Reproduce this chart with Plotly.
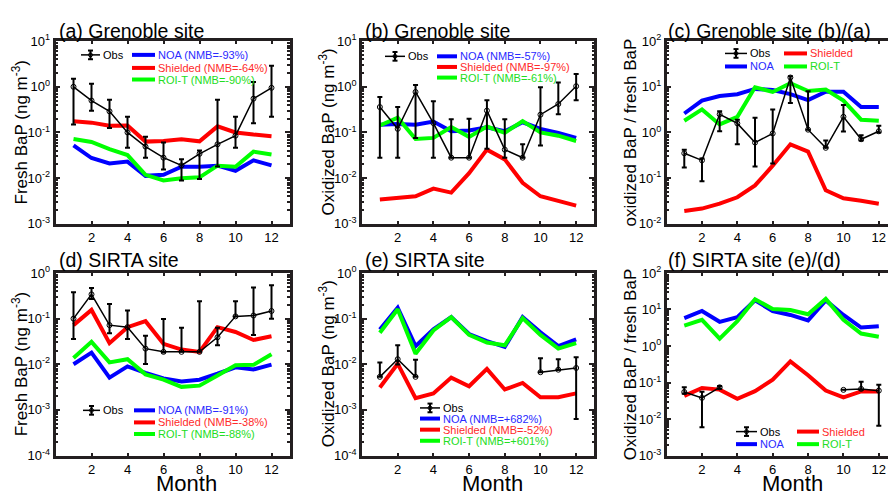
import plotly.graph_objects as go

W, H = 888, 499
months = list(range(1, 13))
NA = None

# ---------------- data ----------------
# (a) Grenoble fresh BaP
a_obs = [1.0, 0.50, 0.29, 0.10, 0.049, 0.028, 0.019, 0.034, 0.055, 0.085, 0.55, 0.95]
a_obs_hi = [1.5, 1.17, 0.52, 0.22, 0.080, 0.060, 0.026, 0.040, 0.52, 0.22, 1.27, 2.9]
a_obs_lo = [0.15, 0.30, 0.125, 0.046, 0.028, 0.0155, 0.0089, 0.0095, 0.018, 0.046, 0.16, 0.22]
a_noa = [0.052, 0.0275, 0.021, 0.023, 0.0112, 0.0118, 0.0177, 0.0177, 0.0187, 0.0145, 0.0245, 0.019]
a_shd = [0.175, 0.164, 0.140, 0.142, 0.063, 0.065, 0.071, 0.064, 0.136, 0.10, 0.090, 0.083]
a_roi = [0.072, 0.062, 0.043, 0.032, 0.0118, 0.0089, 0.0099, 0.0104, 0.0187, 0.0177, 0.038, 0.033]

# (b) Grenoble oxidized BaP
b_obs = [0.36, 0.12, 0.77, 0.16, 0.028, 0.028, 0.30, 0.042, 0.028, 0.245, 0.42, 1.03]
b_obs_hi = [0.60, 0.36, 1.1, 0.48, 0.195, 0.20, 0.51, 0.195, 0.055, 0.98, 1.25, 1.9]
b_obs_lo = [0.028, 0.028, 0.076, 0.028, 0.028, 0.028, 0.044, 0.028, 0.028, 0.052, 0.25, 0.51]
b_noa = [0.147, 0.153, 0.147, 0.173, 0.106, 0.11, 0.13, 0.106, 0.167, 0.12, 0.098, 0.076]
b_shd = [0.0034, 0.0036, 0.004, 0.0059, 0.0048, 0.0128, 0.042, 0.0257, 0.0079, 0.004, 0.0032, 0.0025]
b_roi = [0.142, 0.21, 0.072, 0.076, 0.132, 0.080, 0.135, 0.098, 0.178, 0.10, 0.085, 0.065]

# (c) Grenoble ratio
c_obs = [0.35, 0.245, 2.5, 1.58, 0.6, 0.95, 16, 1.15, 0.46, 2.2, 0.71, 1.06]
c_obs_hi = [0.42, 0.27, 2.9, 1.9, 2.1, 3.2, 17, 8.0, 0.67, 4.0, 0.87, 1.4]
c_obs_lo = [0.17, 0.085, 1.06, 0.55, 0.18, 0.21, 4.4, 1.15, 0.46, 1.05, 0.67, 1.0]
c_noa = [2.6, 5.0, 6.3, 6.9, 9.0, 8.5, 6.9, 5.1, 7.8, 7.8, 3.6, 3.6]
c_shd = [0.019, 0.0215, 0.0275, 0.038, 0.069, 0.187, 0.55, 0.38, 0.054, 0.036, 0.032, 0.0275]
c_roi = [1.8, 3.2, 1.5, 2.2, 9.8, 7.7, 12, 8.1, 8.7, 5.0, 1.9, 1.8]

# (d) SIRTA fresh BaP
d_obs = [0.10, 0.34, 0.072, 0.065, 0.022, 0.0187, 0.0187, 0.0187, 0.039, 0.112, 0.117, 0.147]
d_obs_hi = [0.38, 0.47, 0.21, 0.15, 0.042, 0.098, 0.063, 0.24, 0.063, 0.24, 0.48, 0.54]
d_obs_lo = [0.036, 0.27, 0.048, 0.036, 0.0102, 0.018, 0.0187, 0.0187, 0.026, 0.112, 0.044, 0.10]
d_noa = [0.010, 0.018, 0.0051, 0.0090, 0.0065, 0.0049, 0.0042, 0.0046, 0.0062, 0.0086, 0.0077, 0.0098]
d_shd = [0.072, 0.155, 0.029, 0.065, 0.088, 0.028, 0.021, 0.0187, 0.065, 0.051, 0.034, 0.041]
d_roi = [0.0138, 0.031, 0.011, 0.0129, 0.006, 0.0046, 0.0032, 0.0034, 0.0057, 0.0095, 0.0097, 0.0166]

# (e) SIRTA oxidized BaP
e_obs = [0.0053, 0.0129, 0.0053, NA, NA, NA, NA, NA, NA, 0.0067, 0.0076, 0.0083]
e_obs_hi = [0.011, 0.026, 0.0125, NA, NA, NA, NA, NA, NA, 0.0135, 0.0129, 0.0142]
e_obs_lo = [0.0053, 0.0099, 0.0053, NA, NA, NA, NA, NA, NA, 0.0067, 0.0076, 0.00063]
e_noa = [0.058, 0.173, 0.025, 0.058, 0.108, 0.046, 0.032, 0.024, 0.108, 0.05, 0.025, 0.035]
e_shd = [0.0031, 0.0103, 0.0018, 0.0023, 0.0051, 0.0033, 0.0079, 0.0028, 0.0039, 0.0019, 0.0019, 0.0023]
e_roi = [0.049, 0.16, 0.017, 0.055, 0.108, 0.044, 0.030, 0.026, 0.103, 0.044, 0.022, 0.029]

# (f) SIRTA ratio
f_obs = [0.055, 0.038, 0.074, NA, NA, NA, NA, NA, NA, 0.063, 0.067, 0.060]
f_obs_hi = [0.074, 0.056, 0.080, NA, NA, NA, NA, NA, NA, 0.063, 0.105, 0.087]
f_obs_lo = [0.049, 0.006, 0.068, NA, NA, NA, NA, NA, NA, 0.063, 0.063, 0.0065]
f_noa = [5.8, 9.1, 4.6, 6.2, 17.8, 9.1, 7.1, 5.0, 17.8, 7.1, 3.2, 3.5]
f_shd = [0.043, 0.071, 0.064, 0.036, 0.058, 0.12, 0.38, 0.158, 0.060, 0.039, 0.057, 0.057]
f_roi = [3.6, 5.2, 1.6, 4.8, 19, 10.3, 9.7, 7.4, 19.5, 5.2, 2.2, 1.8]

titles = ["(a) Grenoble site", "(b) Grenoble site", "(c) Grenoble site (b)/(a)",
          "(d) SIRTA site", "(e) SIRTA site", "(f) SIRTA site (e)/(d)"]
ytitles = ["Fresh BaP (ng m<sup>-3</sup>)", "Oxidized BaP (ng m<sup>-3</sup>)",
           "oxidized BaP / fresh BaP",
           "Fresh BaP (ng m<sup>-3</sup>)", "Oxidized BaP (ng m<sup>-3</sup>)",
           "Oxidized BaP / fresh BaP"]
nmb = [["-93%", "-64%", "-90%"], ["-57%", "-97%", "-61%"], None,
       ["-91%", "-38%", "-88%"], ["+682%", "-52%", "+601%"], None]
xlabel = "Month"

data = [
    (a_obs, a_obs_hi, a_obs_lo, a_noa, a_shd, a_roi),
    (b_obs, b_obs_hi, b_obs_lo, b_noa, b_shd, b_roi),
    (c_obs, c_obs_hi, c_obs_lo, c_noa, c_shd, c_roi),
    (d_obs, d_obs_hi, d_obs_lo, d_noa, d_shd, d_roi),
    (e_obs, e_obs_hi, e_obs_lo, e_noa, e_shd, e_roi),
    (f_obs, f_obs_hi, f_obs_lo, f_noa, f_shd, f_roi),
]

# ---------------- layout geometry (pixels) ----------------
cols = [(55.5, 289.5, 13.0), (362.0, 594.0, 13.0), (666.6, 888.0, 12.52)]
rows = [(33.3, 222.3), (273.3, 462.3)]
yranges = [(-3, 1), (-3, 1), (-2, 2), (-4, 0), (-4, 0), (-3, 2)]
ytitle_x = [20, 327, 630]
month_x = [186, 492, 792]
title_x = [57, 363, 666]
title_y = [23, 260]

BLUE, RED, GREEN = "#0000ff", "#ff0000", "#00ff00"
TBLUE, TRED, TGREEN = "#2a2aff", "#ff2a2a", "#22dd22"
FONT = "Arial, 'Liberation Sans', sans-serif"
INK = "#231f20"


def px(x):
    return x / W


def py(y):
    return 1 - y / H


fig = go.Figure()

for i in range(6):
    r, c = divmod(i, 3)
    x0, x1, xmax = cols[c]
    y0, y1 = rows[r]
    ax = "" if i == 0 else str(i + 1)
    obs, hi, lo, noa, shd, roi = data[i]
    for vals, col in ((noa, BLUE), (shd, RED), (roi, GREEN)):
        fig.add_trace(go.Scatter(x=months, y=vals, mode="lines",
                                 line=dict(color=col, width=4),
                                 xaxis="x" + ax, yaxis="y" + ax, showlegend=False))
    up = [None if v is None else h - v for v, h in zip(obs, hi)]
    dn = [None if v is None else v - l for v, l in zip(obs, lo)]
    fig.add_trace(go.Scatter(
        x=months, y=obs, mode="lines+markers",
        line=dict(color="black", width=1.5),
        marker=dict(symbol="circle-open", size=5, color="black", line=dict(width=1)),
        error_y=dict(type="data", symmetric=False, array=up, arrayminus=dn,
                     color="black", thickness=2, width=2.5),
        connectgaps=False, xaxis="x" + ax, yaxis="y" + ax, showlegend=False))

    lo_e, hi_e = yranges[i]
    majors = [10.0 ** e for e in range(lo_e, hi_e + 1)]
    minors = [k * 10.0 ** e for e in range(lo_e, hi_e) for k in range(2, 10)]
    ticktext = ["10<sup>%d</sup>" % e for e in range(lo_e, hi_e + 1)]
    mirror = "ticks" if c < 2 else False
    fig.layout["xaxis" + ax] = dict(
        domain=[px(x0), px(x1)], anchor="y" + ax, range=[0, xmax],
        tickvals=[2, 4, 6, 8, 10, 12], ticks="inside", ticklen=3, tickwidth=2,
        tickcolor=INK, showline=True, linewidth=2.5, linecolor=INK, mirror="ticks",
        showgrid=False, zeroline=False,
        tickfont=dict(size=13, color="black", family=FONT))
    fig.layout["yaxis" + ax] = dict(
        domain=[py(y1), py(y0)], anchor="x" + ax, type="log", range=[lo_e, hi_e],
        tickvals=majors, ticktext=ticktext, ticks="inside", ticklen=5, tickwidth=2,
        tickcolor=INK, showline=True, linewidth=2.5, linecolor=INK, mirror=mirror,
        showgrid=False, zeroline=False,
        minor=dict(tickvals=minors, ticks="inside", ticklen=2.5, tickwidth=1.5,
                   tickcolor=INK, showgrid=False),
        tickfont=dict(size=13, color="black", family=FONT))

    # panel title
    fig.add_annotation(x=px(title_x[c]), y=py(title_y[r]), xref="paper", yref="paper",
                       text=titles[i], showarrow=False, xanchor="left", yanchor="middle",
                       font=dict(size=19.5, color="black", family=FONT))
    # y title
    fig.add_annotation(x=px(ytitle_x[c]), y=py((y0 + y1) / 2), xref="paper", yref="paper",
                       text=ytitles[i], showarrow=False, textangle=-90,
                       xanchor="center", yanchor="middle",
                       font=dict(size=17, color="black", family=FONT))
    if r == 1:
        fig.add_annotation(x=px(month_x[c]), y=py(491), xref="paper", yref="paper",
                           text=xlabel, showarrow=False, xanchor="center", yanchor="middle",
                           height=17, borderpad=0,
                           font=dict(size=22, color="black", family=FONT))


def leg_line(xa, xb, y, color):
    fig.add_shape(type="line", xref="paper", yref="paper", x0=px(xa), x1=px(xb),
                  y0=py(y), y1=py(y), line=dict(color=color, width=4))


def leg_obs(xa, xb, y):
    xm = (xa + xb) / 2
    fig.add_shape(type="line", xref="paper", yref="paper", x0=px(xa), x1=px(xb),
                  y0=py(y), y1=py(y), line=dict(color="black", width=1.5))
    fig.add_shape(type="line", xref="paper", yref="paper", x0=px(xm), x1=px(xm),
                  y0=py(y - 4.5), y1=py(y + 4.5), line=dict(color="black", width=2))
    for yy in (y - 4.5, y + 4.5):
        fig.add_shape(type="line", xref="paper", yref="paper", x0=px(xm - 2.5),
                      x1=px(xm + 2.5), y0=py(yy), y1=py(yy),
                      line=dict(color="black", width=2))
    fig.add_shape(type="circle", xref="paper", yref="paper", x0=px(xm - 2), x1=px(xm + 2),
                  y0=py(y - 2), y1=py(y + 2), line=dict(color="black", width=1))


def leg_text(x, y, text, color):
    fig.add_annotation(x=px(x), y=py(y), xref="paper", yref="paper", text=text,
                       showarrow=False, xanchor="left", yanchor="middle",
                       font=dict(size=11, color=color, family=FONT))


names = ["NOA", "Shielded", "ROI-T"]
lcols = [BLUE, RED, GREEN]
tcols = [TBLUE, TRED, TGREEN]

# (a), (b), (d): Obs at left, model entries in a column to the right
for i, (ox0, ox1, mx0, mx1, ys) in {
        0: (81, 100, 132, 155, (47.5, 61, 73)),
        1: (385, 405, 437, 457, (49, 60, 71)),
        3: (83, 100, 134, 155, (415.5, 428, 440))}.items():
    leg_obs(ox0, ox1, ys[0])
    leg_text(ox1 + 1, ys[0], "Obs", "black")
    for k in range(3):
        leg_line(mx0, mx1, ys[k], lcols[k])
        leg_text(mx1 + 1, ys[k], "%s (NMB=%s)" % (names[k], nmb[i][k]), tcols[k])

# (e): single column
ys = (413, 424, 435.5, 447)
leg_obs(420, 440, ys[0])
leg_text(441, ys[0], "Obs", "black")
for k in range(3):
    leg_line(420, 440, ys[k + 1], lcols[k])
    leg_text(441, ys[k + 1], "%s (NMB=%s)" % (names[k], nmb[4][k]), tcols[k])

# (c), (f): 2x2 grid
for (ax0, ax1, bx0, bx1, yt, yb) in ((725, 747, 784, 807, 46, 59.5),
                                      (736, 757, 797, 819, 437.5, 450.5)):
    leg_obs(ax0, ax1, yt)
    leg_text(ax1 + 1, yt, "Obs", "black")
    leg_line(bx0, bx1, yt, RED)
    leg_text(bx1 + 1, yt, "Shielded", TRED)
    leg_line(ax0, ax1, yb, BLUE)
    leg_text(ax1 + 1, yb, "NOA", TBLUE)
    leg_line(bx0, bx1, yb, GREEN)
    leg_text(bx1 + 1, yb, "ROI-T", TGREEN)

fig.update_layout(width=W, height=H, margin=dict(l=0, r=0, t=0, b=0),
                  paper_bgcolor="white", plot_bgcolor="white",
                  font=dict(family=FONT, color="black"), showlegend=False)

fig.write_html("out.html")
